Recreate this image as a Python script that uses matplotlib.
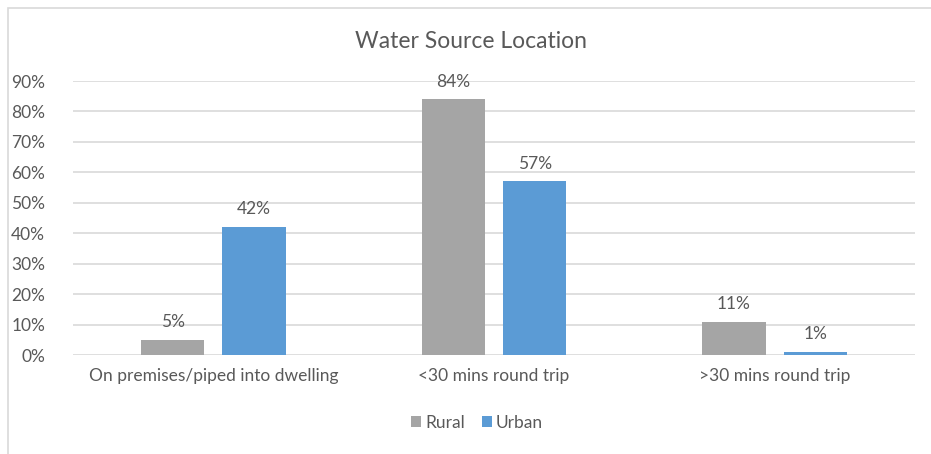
import numpy as np
import matplotlib.pyplot as plt
from matplotlib.patches import Rectangle

categories = ['On premises/piped into dwelling', '<30 mins round trip', '>30 mins round trip']
rural = [5, 84, 11]
urban = [42, 57, 1]
yticks = [0, 10, 20, 30, 40, 50, 60, 70, 80, 90]

plt.rcParams['font.family'] = ['Lato', 'DejaVu Sans']
text_col = '#595959'
grid_col = '#D9D9D9'

W, H = 931, 454
fig = plt.figure(figsize=(W / 100, H / 100), dpi=100)

# chart frame
fig.patches.append(Rectangle((8 / W, -0.1), 1.2, (H - 8) / H + 0.1, transform=fig.transFigure,
                             fill=False, edgecolor='#D9D9D9', linewidth=1.2))

ax = fig.add_axes([73 / W, 99 / H, 842 / W, 274 / H])
x = np.arange(len(categories))
w = 0.225
off = 0.145
b1 = ax.bar(x - off, rural, w, color='#A5A5A5', label='Rural', zorder=3)
b2 = ax.bar(x + off, urban, w, color='#5B9BD5', label='Urban', zorder=3)

for bars in (b1, b2):
    for r in bars:
        ax.text(r.get_x() + r.get_width() / 2, r.get_height() + 3.2, f'{r.get_height():.0f}%',
                ha='center', va='bottom', fontsize=12.5, color=text_col)

ax.set_xlim(-0.5, 2.5)
ax.set_ylim(0, 90)
ax.set_yticks(yticks)
ax.set_yticklabels([f'{t}%' for t in yticks])
ax.set_xticks(x)
ax.set_xticklabels(categories)
ax.grid(axis='y', color=grid_col, linewidth=1.2, zorder=0)
for s in ax.spines.values():
    s.set_visible(False)
ax.tick_params(length=0, labelsize=12.5, labelcolor=text_col)
ax.tick_params(axis='y', pad=20)
ax.tick_params(axis='x', pad=9)

fig.text(471 / W, 1 - 42 / H, 'Water Source Location', ha='center', va='center',
         fontsize=16.5, color=text_col)

fig.legend(loc='center', bbox_to_anchor=(477 / W, 1 - 423 / H), ncol=2, frameon=False,
           fontsize=12.5, labelcolor=text_col, handlelength=0.6, handleheight=0.6,
           handletextpad=0.2, columnspacing=1.0)

fig.savefig('out.png', dpi=100)
